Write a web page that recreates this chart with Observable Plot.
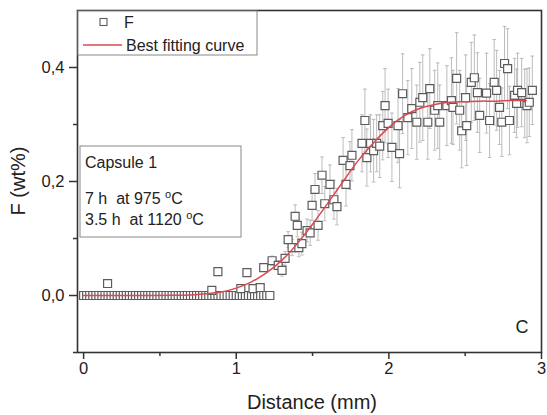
<!DOCTYPE html>
<html>
<head>
<meta charset="utf-8">
<script src="https://cdn.jsdelivr.net/npm/d3@7"></script>
<script src="https://cdn.jsdelivr.net/npm/@observablehq/plot@0.6"></script>
<style>
  html, body { margin: 0; padding: 0; background: #fff; }
  #chart { width: 547px; height: 415px; }
</style>
</head>
<body>
<div id="chart"></div>
<script>
// ---- data ----
const flatDistance = [0,0.02,0.04,0.06,0.08,0.1,0.12,0.14,0.16,0.18,0.2,0.22,0.24,0.26,0.28,0.3,0.32,0.34,0.36,0.38,0.4,0.42,0.44,0.46,0.48,0.5,0.52,0.54,0.56,0.58,0.6,0.62,0.64,0.66,0.68,0.7,0.72,0.74,0.76,0.78,0.8,0.82,0.84,0.86,0.88,0.9,0.92,0.94,0.96,0.98,1,1.02,1.04,1.06,1.08,1.1,1.12,1.14,1.16,1.18,1.2,1.22];
const flatF = [0,0,0,0,0,0,0,0,0,0,0,0,0,0,0,0,0,0,0,0,0,0,0,0,0,0,0,0,0,0,0,0,0,0,0,0,0,0,0,0,0,0,0,0,0,0,0,0,0,0,0,0,0,0,0,0,0,0,0,0,0,0];

const distance = [0.157,0.84,0.88,1.03,1.07,1.11,1.157,1.18,
  1.235,1.275,1.30,1.32,1.34,1.366,1.386,1.40,1.41,1.43,1.464,1.484,1.497,1.516,1.536,1.562,1.58,1.614,1.64,1.66,1.70,1.719,1.745,1.758,
  1.824,1.843,1.856,1.88,1.90,1.92,1.94,1.96,1.975,1.995,2.02,2.06,2.07,2.09,2.124,2.15,2.183,2.203,2.222,2.255,2.268,2.30,2.32,2.333,
  2.38,2.41,2.42,2.444,2.464,2.477,2.503,2.51,2.54,2.56,2.58,2.595,2.64,2.66,2.69,2.706,2.725,2.74,2.758,2.778,2.79,2.824,2.837,2.843,
  2.87,2.89,2.905,2.92,2.94];
const F = [0.021,0.009,0.042,0.012,0.040,0.012,0.014,0.049,
  0.061,0.053,0.044,0.065,0.098,0.084,0.139,0.123,0.084,0.091,0.114,0.110,0.158,0.186,0.123,0.211,0.161,0.195,0.168,0.156,0.237,0.195,0.228,0.246,
  0.267,0.307,0.242,0.267,0.254,0.267,0.262,0.298,0.333,0.302,0.260,0.298,0.249,0.354,0.312,0.328,0.304,0.339,0.347,0.304,0.363,0.325,0.333,0.304,
  0.333,0.342,0.330,0.381,0.325,0.289,0.347,0.298,0.374,0.382,0.356,0.316,0.355,0.307,0.374,0.360,0.330,0.304,0.407,0.398,0.307,0.351,0.337,0.360,
  0.356,0.337,0.333,0.339,0.360];
const Ferr = [0,0,0,0,0,0,0,0,
  0.008,0.008,0.01,0.012,0.014,0.014,0.02,0.02,0.016,0.02,0.02,0.022,0.026,0.028,0.026,0.032,0.03,0.034,0.034,0.032,0.04,0.038,0.042,0.045,
  0.05,0.055,0.05,0.05,0.055,0.05,0.055,0.06,0.065,0.06,0.06,0.065,0.06,0.07,0.065,0.07,0.065,0.07,0.075,0.065,0.07,0.07,0.075,0.065,
  0.07,0.075,0.065,0.08,0.07,0.065,0.075,0.07,0.07,0.075,0.07,0.065,0.07,0.065,0.075,0.07,0.065,0.06,0.065,0.07,0.06,0.065,0.06,0.065,
  0.06,0.06,0.065,0.06,0.06];

const curveDistance = [0,0.2,0.4,0.6,0.7,0.8,0.9,1.0,1.1,1.2,1.3,1.4,1.5,1.6,1.7,1.8,1.9,2.0,2.1,2.2,2.3,2.4,2.5,2.6,2.7,2.8,2.9];
const curveF = [0,0,0,0.0005,0.001,0.003,0.006,0.013,0.024,0.040,0.062,0.091,0.125,0.162,0.200,0.237,0.268,0.295,0.315,0.328,0.335,0.339,0.340,0.341,0.341,0.342,0.342];

const yTicks = [0, 0.2, 0.4];
const yMinor = [-0.1, 0.1, 0.3];
const xTicks = [0, 1, 2, 3];
const xMinor = [0.5, 1.5, 2.5];

const legendLabels = ["F", "Best fitting curve"];
const infoLines = ["Capsule 1", "7 h  at 975 ", "3.5 h  at 1120 "];
const panelLabel = "C";
const xLabel = "Distance (mm)";
const yLabel = "F (wt%)";

// ---- build tables ----
const points = flatDistance.map((x, i) => ({x, y: flatF[i], e: 0}))
  .concat(distance.map((x, i) => ({x, y: F[i], e: Ferr[i]})));
const bars = points.filter(d => d.e > 0);
const curve = curveDistance.map((x, i) => ({x, y: curveF[i]}));
const capHalf = 0.012;

const font = "'Liberation Sans', Arial, sans-serif";
const fmtY = d => d.toFixed(1).replace(".", ",");

const chart = Plot.plot({
  width: 547,
  height: 415,
  marginLeft: 77,
  marginRight: 6,
  marginTop: 10,
  marginBottom: 63,
  x: {domain: [-0.04, 3.0]},
  y: {domain: [-0.1, 0.5]},
  style: {fontFamily: font, fontSize: "15px", color: "#222", background: "#fff"},
  marks: [
    Plot.ruleX(bars, {x: "x", y1: d => d.y - d.e, y2: d => d.y + d.e, stroke: "#b4b4b4", strokeWidth: 0.9}),
    Plot.link(bars, {x1: d => d.x - capHalf, x2: d => d.x + capHalf, y1: d => d.y + d.e, y2: d => d.y + d.e, stroke: "#b4b4b4", strokeWidth: 0.9}),
    Plot.link(bars, {x1: d => d.x - capHalf, x2: d => d.x + capHalf, y1: d => d.y - d.e, y2: d => d.y - d.e, stroke: "#b4b4b4", strokeWidth: 0.9}),
    Plot.dot(points, {x: "x", y: "y", symbol: "square", r: 4.5, stroke: "#5c5c5c", fill: "white", strokeWidth: 1.2}),
    Plot.line(curve, {x: "x", y: "y", stroke: "#dc4850", strokeWidth: 1.5, curve: "natural"}),
    Plot.frame({stroke: "#333", strokeWidth: 1.6}),
    Plot.axisY({ticks: yTicks, tickFormat: fmtY, tickSize: 8, tickPadding: 5, stroke: "#333", strokeWidth: 1.5, label: null, fill: "#222", fontSize: 16.5}),
    Plot.axisY({ticks: yMinor, tickFormat: () => "", tickSize: 4, stroke: "#333", strokeWidth: 1.5, label: null}),
    Plot.axisX({ticks: xTicks, tickFormat: d => String(d), tickSize: 7, tickPadding: 3, stroke: "#333", strokeWidth: 1.5, label: null, fill: "#222", fontSize: 16.5}),
    Plot.axisX({ticks: xMinor, tickFormat: () => "", tickSize: 4, stroke: "#333", strokeWidth: 1.5, label: null})
  ]
});

document.getElementById("chart").appendChild(chart);

const svg = d3.select(chart);

// ---- annotations (legend, info box, labels) ----
const g = svg.append("g").attr("font-family", font).attr("fill", "#222").attr("text-anchor", "start");

// legend box
g.append("rect").attr("x", 78).attr("y", 11).attr("width", 179).attr("height", 44)
  .attr("fill", "white").attr("stroke", "#888").attr("stroke-width", 1);
g.append("rect").attr("x", 100).attr("y", 18.5).attr("width", 7).attr("height", 7)
  .attr("fill", "white").attr("stroke", "#5c5c5c").attr("stroke-width", 1.1);
g.append("text").attr("x", 124).attr("y", 28).attr("font-size", 16).text(legendLabels[0]);
g.append("line").attr("x1", 83).attr("x2", 122).attr("y1", 45).attr("y2", 45)
  .attr("stroke", "#dc4850").attr("stroke-width", 1.5);
g.append("text").attr("x", 126).attr("y", 51).attr("font-size", 16).text(legendLabels[1]);

// info box
g.append("rect").attr("x", 80).attr("y", 146).attr("width", 161).attr("height", 91)
  .attr("fill", "white").attr("stroke", "#888").attr("stroke-width", 1);
g.append("text").attr("x", 85).attr("y", 168).attr("font-size", 16).text(infoLines[0]);
[infoLines[1], infoLines[2]].forEach((t, i) => {
  const tx = g.append("text").attr("x", 85).attr("y", 204 + i * 21).attr("font-size", 16).style("white-space", "pre");
  tx.append("tspan").text(t);
  tx.append("tspan").attr("font-size", 11).attr("dy", -6).text("o");
  tx.append("tspan").attr("dy", 6).text("C");
});

// panel label
g.append("text").attr("x", 522).attr("y", 333).attr("font-size", 18).attr("text-anchor", "middle").text(panelLabel);

// axis titles
g.append("text").attr("x", 312).attr("y", 409).attr("font-size", 20).attr("text-anchor", "middle").text(xLabel);
g.append("text").attr("transform", "translate(25,181) rotate(-90)").attr("font-size", 20).attr("text-anchor", "middle").text(yLabel);
</script>
</body>
</html>
